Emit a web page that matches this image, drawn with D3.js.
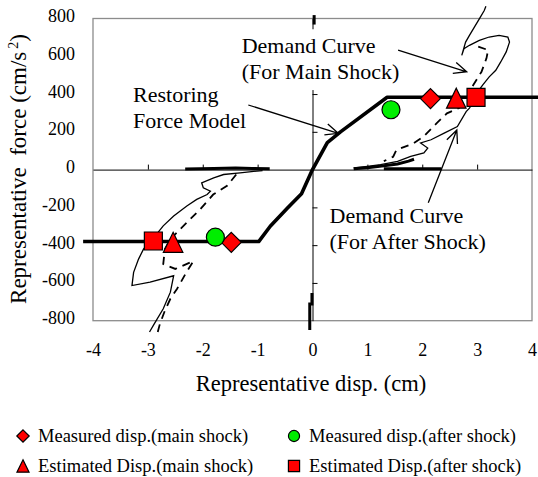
<!DOCTYPE html>
<html>
<head>
<meta charset="utf-8">
<script src="https://cdn.jsdelivr.net/npm/d3@7"></script>
<style>
  body { margin: 0; background: #fff; }
  svg { display: block; }
  text { white-space: pre; }
</style>
</head>
<body>
<svg width="538" height="477"></svg>
<script>
const xTicks = [-4, -3, -2, -1, 0, 1, 2, 3, 4];
const yTicks = [-800, -600, -400, -200, 0, 200, 400, 600, 800];

const seriesNames = ["Measured disp.(main shock)", "Measured disp.(after shock)",
                     "Estimated Disp.(main shock)", "Estimated Disp.(after shock)"];

// [disp (cm), force (cm/s2)]
const restoringModel = [[-4.18, -381], [-0.98, -381], [-0.77, -300], [-0.46, -205], [-0.2, -128], [0, 0],
                        [0.27, 143], [0.51, 200], [1.36, 383], [4.4, 383]];

// demand curve for after shock (solid trace)
const afterShockPos = [[0.75, 9], [1.0, 17], [1.24, 26], [1.55, 44], [1.79, 70], [2.03, 88], [2.1, 114], [1.97, 141],
  [2.16, 158], [2.4, 193], [2.64, 228], [2.8, 307], [2.86, 325], [2.95, 368], [3.01, 412], [3.1, 447], [3.22, 491],
  [3.34, 526], [3.43, 570], [3.53, 623], [3.59, 675], [3.56, 702], [3.4, 711], [3.22, 702], [3.04, 684], [2.86, 658],
  [2.76, 640], [2.72, 605], [2.79, 675], [2.86, 711], [2.95, 754], [3.04, 798], [3.13, 842], [3.16, 865]];
const afterShockNeg = [[-0.91, -5], [-1.32, -17], [-1.62, -26], [-1.8, -44], [-2.02, -70], [-1.99, -96], [-1.86, -114],
  [-1.92, -132], [-2.11, -158], [-2.29, -193], [-2.53, -246], [-2.72, -298], [-2.84, -342], [-2.96, -379], [-3.08, -421],
  [-3.17, -474], [-3.26, -544], [-3.29, -614], [-2.96, -596], [-2.53, -562], [-2.59, -649], [-2.72, -737], [-2.9, -825],
  [-2.97, -860]];

// demand curve for main shock (dashed trace)
const mainShockPos = [[3.02, 651], [3.2, 633], [3.17, 589], [3.08, 518], [2.93, 448], [2.81, 368], [2.67, 326],
  [2.45, 298], [2.26, 245], [2.02, 174], [1.84, 139], [1.53, 104], [1.47, 68], [1.3, 45]];
const mainShockNeg = [[-1.39, -26], [-1.55, -84], [-1.81, -132], [-2.05, -211], [-2.32, -289], [-2.59, -368],
  [-2.69, -421], [-2.72, -500], [-2.5, -526], [-2.17, -484], [-2.3, -545], [-2.47, -632], [-2.59, -684],
  [-2.69, -747], [-2.78, -816], [-2.82, -860]];

// heavy residual scribbles of the records
const residualTraces = [
  [[-2.32, 3], [-1.8, 6], [-1.4, 9], [-1.1, 6], [-0.78, 4]],
  [[0.75, 4], [1.0, 10], [1.3, 20], [1.55, 30], [1.75, 45], [1.85, 55]],
  [[1.3, 4], [2.35, 4]],
  [[0.03, 818], [0.03, 768]],
  [[-0.01, -653], [-0.01, -712], [-0.05, -712], [-0.05, -849]]
];

const measuredMain = [[-1.48, -385], [2.15, 376]];
const measuredAfter = [[-1.77, -358], [1.43, 317]];
const estimatedMain = [[-2.54, -385], [2.62, 378]];
const estimatedAfter = [[-2.9, -378], [2.98, 382]];

const svg = d3.select("svg").attr("font-family", "Liberation Serif");

const x = d3.scaleLinear().domain([-4, 4]).range([93, 532]);
const y = d3.scaleLinear().domain([-800, 800]).range([320.7, 18.5]);

const line = d3.line().x(d => x(d[0])).y(d => y(d[1]));

// frame
svg.append("rect")
  .attr("x", x(-4)).attr("y", y(800))
  .attr("width", x(4) - x(-4)).attr("height", y(-800) - y(800))
  .attr("fill", "none").attr("stroke", "#8c8c8c").attr("stroke-width", 1.3);

// tick labels round the frame
svg.append("g")
  .attr("transform", `translate(0,${y(-800)})`)
  .call(d3.axisBottom(x).tickValues(xTicks).tickSize(0).tickPadding(22.5).tickFormat(d => String(d)))
  .call(g => g.select(".domain").remove())
  .call(g => g.attr("font-family", null).attr("font-size", 18));

svg.append("g")
  .attr("transform", `translate(${x(-4)},0)`)
  .call(d3.axisLeft(y).tickValues(yTicks).tickSize(0).tickPadding(18).tickFormat(d => String(d)))
  .call(g => g.select(".domain").remove())
  .call(g => g.attr("font-family", null).attr("font-size", 18))
  .call(g => g.selectAll("text").attr("dy", 3));

// axes crossing at the origin
svg.append("g")
  .attr("transform", `translate(0,${y(0)})`)
  .call(d3.axisTop(x).tickValues(xTicks.filter(d => d !== 0 && Math.abs(d) < 4))
    .tickSize(5).tickSizeOuter(0).tickFormat(""));

svg.append("g")
  .attr("transform", `translate(${x(0)},0)`)
  .call(d3.axisRight(y).tickValues(yTicks.filter(d => d !== 0 && Math.abs(d) < 800))
    .tickSize(5).tickSizeOuter(0).tickFormat(""));

// demand curves
[afterShockPos, afterShockNeg].forEach(d => {
  svg.append("path").attr("d", line(d))
    .attr("fill", "none").attr("stroke", "#000").attr("stroke-width", 1.3);
});
[mainShockPos, mainShockNeg].forEach(d => {
  svg.append("path").attr("d", line(d))
    .attr("fill", "none").attr("stroke", "#000").attr("stroke-width", 1.8)
    .attr("stroke-dasharray", "8,6");
});
residualTraces.forEach(d => {
  svg.append("path").attr("d", line(d))
    .attr("fill", "none").attr("stroke", "#000").attr("stroke-width", 3);
});

// restoring force model
svg.append("path").attr("d", line(restoringModel))
  .attr("fill", "none").attr("stroke", "#000").attr("stroke-width", 3.6)
  .attr("stroke-linejoin", "round");

// annotations with white text boxes
const annotations = [
  { lines: ["Restoring", "Force Model"], at: [-3.27, 359], from: [-1.17, 342], to: [0.47, 192] },
  { lines: ["Demand Curve", "(For Main Shock)"], at: [-1.29, 616], from: [1.56, 633], to: [2.81, 518] },
  { lines: ["Demand Curve", "(For After Shock)"], at: [0.31, -284], from: [2.11, -175], to: [2.63, 210] }
];

function arrow(from, to) {
  const x0 = x(from[0]), y0 = y(from[1]), x1 = x(to[0]), y1 = y(to[1]);
  const a = Math.atan2(y1 - y0, x1 - x0), len = 14, spread = 0.42;
  const p = d3.path();
  p.moveTo(x0, y0);
  p.lineTo(x1, y1);
  p.moveTo(x1 - len * Math.cos(a - spread), y1 - len * Math.sin(a - spread));
  p.lineTo(x1, y1);
  p.lineTo(x1 - len * Math.cos(a + spread), y1 - len * Math.sin(a + spread));
  svg.append("path").attr("d", p.toString())
    .attr("fill", "none").attr("stroke", "#000").attr("stroke-width", 1.3);
}

annotations.forEach(a => {
  const g = svg.append("g");
  const box = g.append("rect").attr("fill", "#fff");
  const t = g.append("text").attr("font-size", 22);
  a.lines.forEach((s, i) => {
    t.append("tspan").attr("x", x(a.at[0])).attr("y", y(a.at[1]) + i * 25.8).text(s);
  });
  const b = t.node().getBBox();
  box.attr("x", b.x - 4).attr("y", b.y - 4).attr("width", b.width + 8).attr("height", b.height + 10);
  arrow(a.from, a.to);
});

// markers
function markerPath(shape, s) {
  const p = d3.path();
  if (shape === "diamond") {
    const h = 10 * s;
    p.moveTo(0, -h); p.lineTo(h, 0); p.lineTo(0, h); p.lineTo(-h, 0); p.closePath();
  } else if (shape === "circle") {
    p.arc(0, 0, 9 * s, 0, 2 * Math.PI);
  } else if (shape === "triangle") {
    const w = 19.5 * s, h = 20 * s;
    p.moveTo(0, -h / 2); p.lineTo(w / 2, h / 2); p.lineTo(-w / 2, h / 2); p.closePath();
  } else {
    const h = 9 * s;
    p.rect(-h, -h, 2 * h, 2 * h);
  }
  return p.toString();
}

const markerSeries = [
  { name: seriesNames[0], data: measuredMain, shape: "diamond", fill: "#ff0000" },
  { name: seriesNames[1], data: measuredAfter, shape: "circle", fill: "#00ee00" },
  { name: seriesNames[2], data: estimatedMain, shape: "triangle", fill: "#ff0000" },
  { name: seriesNames[3], data: estimatedAfter, shape: "square", fill: "#ff0000" }
];

markerSeries.forEach(m => {
  svg.append("g").selectAll("path")
    .data(m.data)
    .enter()
    .append("path")
    .attr("transform", d => `translate(${x(d[0])},${y(d[1])})`)
    .attr("d", markerPath(m.shape, 1))
    .attr("fill", m.fill).attr("stroke", "#000").attr("stroke-width", 1.2);
});

// axis titles
svg.append("text")
  .attr("x", 311).attr("y", 390.5)
  .attr("text-anchor", "middle").attr("font-size", 22.5)
  .text("Representative disp. (cm)");

const yTitle = svg.append("text")
  .attr("transform", "translate(26,169) rotate(-90)")
  .attr("text-anchor", "middle").attr("font-size", 23)
  .text("Representative  force (cm/s");
yTitle.append("tspan").attr("dx", 3).attr("dy", -8).attr("font-size", 14).text("2");
yTitle.append("tspan").attr("dy", 8).text(")");

// legend
const legend = svg.append("g");
const legendCols = [23, 294];
const legendRows = [436, 466];

markerSeries.forEach((m, i) => {
  const lx = legendCols[i % 2], ly = legendRows[Math.floor(i / 2)];
  legend.append("path")
    .attr("transform", `translate(${lx},${ly})`)
    .attr("d", markerPath(m.shape, 0.62))
    .attr("fill", m.fill).attr("stroke", "#000").attr("stroke-width", 1.2);
  legend.append("text")
    .attr("x", lx + 15).attr("y", ly + 5.5)
    .attr("font-size", 18.5)
    .text(m.name);
});
</script>
</body>
</html>
